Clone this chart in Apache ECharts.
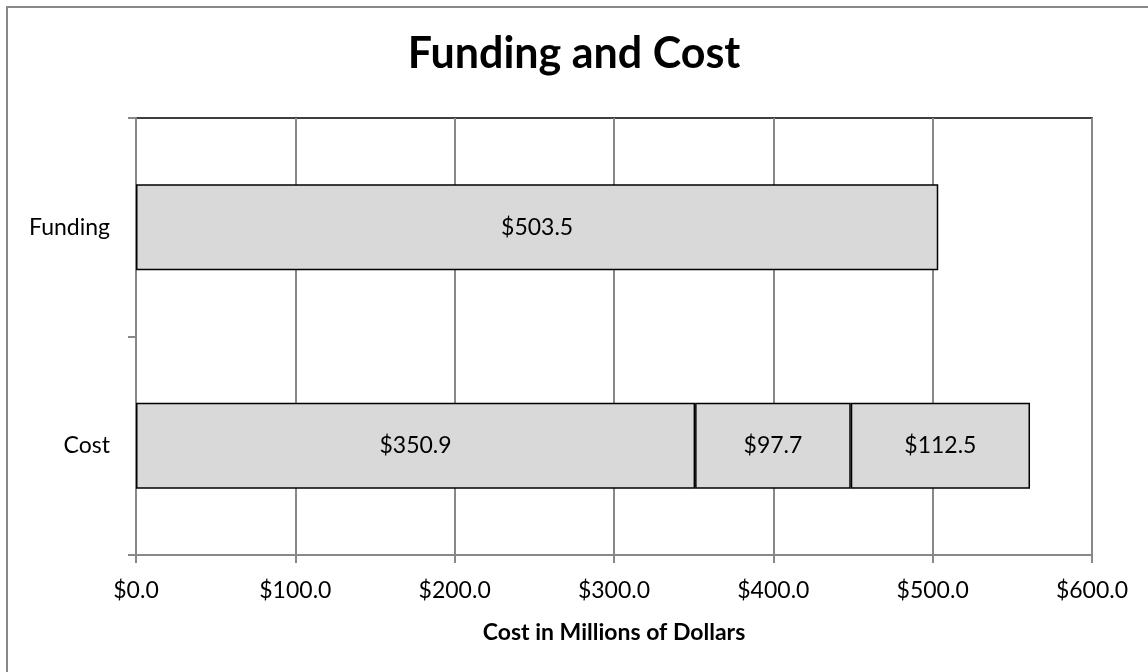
<!DOCTYPE html>
<html>
<head>
<meta charset="utf-8">
<script src="https://cdn.jsdelivr.net/npm/echarts@6/dist/echarts.min.js"></script>
<style>
  html, body { margin: 0; padding: 0; background: #fff; }
  #main { width: 1148px; height: 672px; }
</style>
</head>
<body>
<div id="main"></div>
<script>
// data
var categories = ['Cost', 'Funding'];
var partA = [350.9, 503.5];
var partB = [97.7, null];
var partC = [112.5, null];
var xTicks = [0, 100, 200, 300, 400, 500, 600];

var font = 'Lato, "Open Sans", sans-serif';

function money(v) {
    return '$' + Number(v).toFixed(1);
}

var barStyle = {
    color: '#d9d9d9',
    borderColor: '#000',
    borderWidth: 1.5
};
var barLabel = {
    show: true,
    position: 'inside',
    color: '#000',
    fontSize: 23,
    fontFamily: font,
    formatter: function (p) { return money(p.value); }
};

var myChart = echarts.init(document.getElementById('main'));
var option = {
    backgroundColor: '#fff',
    animation: false,
    title: {
        text: 'Funding and Cost',
        left: 'center',
        top: 28,
        textStyle: {
            fontSize: 43,
            fontWeight: 'bold',
            fontFamily: font,
            color: '#000'
        }
    },
    graphic: [
        {
            type: 'rect',
            shape: { x: 7, y: 7, width: 1300, height: 800 },
            style: { fill: 'none', stroke: '#888', lineWidth: 2 },
            silent: true
        }
    ],
    grid: {
        left: 136,
        right: 56,
        top: 118,
        bottom: 117,
        show: true,
        borderColor: '#000',
        borderWidth: 1.5
    },
    xAxis: {
        type: 'value',
        min: xTicks[0],
        max: xTicks[xTicks.length - 1],
        interval: 100,
        name: 'Cost in Millions of Dollars',
        nameLocation: 'middle',
        nameGap: 66,
        nameTextStyle: {
            fontSize: 23,
            fontWeight: 'bold',
            fontFamily: font,
            color: '#000'
        },
        axisLine: { show: true, lineStyle: { color: '#888', width: 2 } },
        axisTick: { show: true, length: 8, lineStyle: { color: '#888', width: 2 } },
        axisLabel: {
            fontSize: 23,
            fontFamily: font,
            color: '#000',
            margin: 24,
            formatter: money
        },
        splitLine: { show: true, lineStyle: { color: '#888', width: 2 } }
    },
    yAxis: {
        type: 'category',
        data: categories,
        axisLine: { show: true, lineStyle: { color: '#888', width: 2 } },
        axisTick: { show: true, length: 8, lineStyle: { color: '#888', width: 2 } },
        axisLabel: {
            fontSize: 23,
            fontFamily: font,
            color: '#000',
            margin: 26
        },
        splitLine: { show: false }
    },
    series: [
        {
            name: 'A',
            type: 'bar',
            stack: 'total',
            barWidth: 86,
            itemStyle: barStyle,
            label: barLabel,
            data: partA
        },
        {
            name: 'B',
            type: 'bar',
            stack: 'total',
            barWidth: 86,
            itemStyle: barStyle,
            label: barLabel,
            data: partB
        },
        {
            name: 'C',
            type: 'bar',
            stack: 'total',
            barWidth: 86,
            itemStyle: barStyle,
            label: barLabel,
            data: partC
        }
    ]
};
myChart.setOption(option);
</script>
</body>
</html>
